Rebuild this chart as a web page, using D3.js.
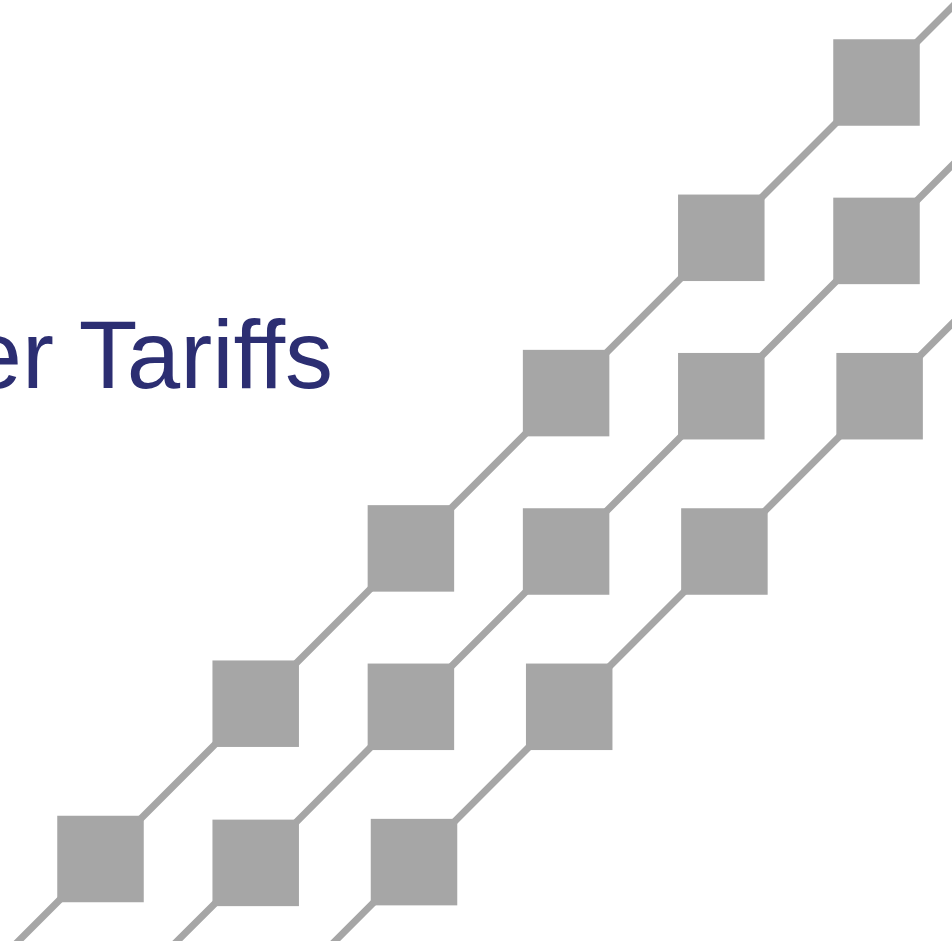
<!DOCTYPE html>
<html>
<head>
<meta charset="utf-8">
<script src="https://cdn.jsdelivr.net/npm/d3@7/dist/d3.min.js"></script>
<style>
  html, body { margin: 0; padding: 0; background: #ffffff; overflow: hidden; }
  svg { display: block; }
</style>
</head>
<body>
<script>
// Title (only its visible tail is in view)
const titleText = "er Tariffs";

// Series values (x, y in chart units); first and last points lie outside the view
const series1X = [0, 1, 2, 3, 4, 5, 6, 7];
const series1Y = [0, 1, 2, 3, 4, 5, 6, 7];

const series2X = [1, 2, 3, 4, 5, 6, 7];
const series2Y = [-0.02, 0.975, 1.98, 2.98, 3.98, 4.98, 5.98];

const series3X = [2.02, 3.02, 4.02, 5.02, 6.02, 7.02];
const series3Y = [-0.02, 0.98, 1.98, 2.98, 3.98, 4.98];

const W = 952, H = 941;
const svg = d3.select("body").append("svg")
  .attr("width", W).attr("height", H);

svg.append("rect").attr("width", W).attr("height", H).attr("fill", "#ffffff");

const x = d3.scaleLinear().domain([1, 6]).range([100.5, 876.5]);
const y = d3.scaleLinear().domain([1, 6]).range([859, 82.5]);

const grey = "#a6a6a6";
const markerSize = 86.5;

const seriesList = [
  series1X.map((v, i) => ({ x: v, y: series1Y[i] })),
  series2X.map((v, i) => ({ x: v, y: series2Y[i] })),
  series3X.map((v, i) => ({ x: v, y: series3Y[i] }))
];

// Title
svg.append("text")
  .attr("x", -31.5)
  .attr("y", 387.5)
  .attr("font-family", "'Liberation Sans', Arial, sans-serif")
  .attr("font-size", 96)
  .attr("fill", "#2c2e72")
  .text(titleText);

const line = d3.line().x(d => x(d.x)).y(d => y(d.y));

const g = svg.append("g");
seriesList.forEach(data => {
  g.append("path")
    .datum(data)
    .attr("d", line)
    .attr("fill", "none")
    .attr("stroke", grey)
    .attr("stroke-width", 7);
});

seriesList.forEach(data => {
  g.selectAll(null)
    .data(data)
    .enter()
    .append("rect")
    .attr("x", d => x(d.x) - markerSize / 2)
    .attr("y", d => y(d.y) - markerSize / 2)
    .attr("width", markerSize)
    .attr("height", markerSize)
    .attr("fill", grey);
});
</script>
</body>
</html>
